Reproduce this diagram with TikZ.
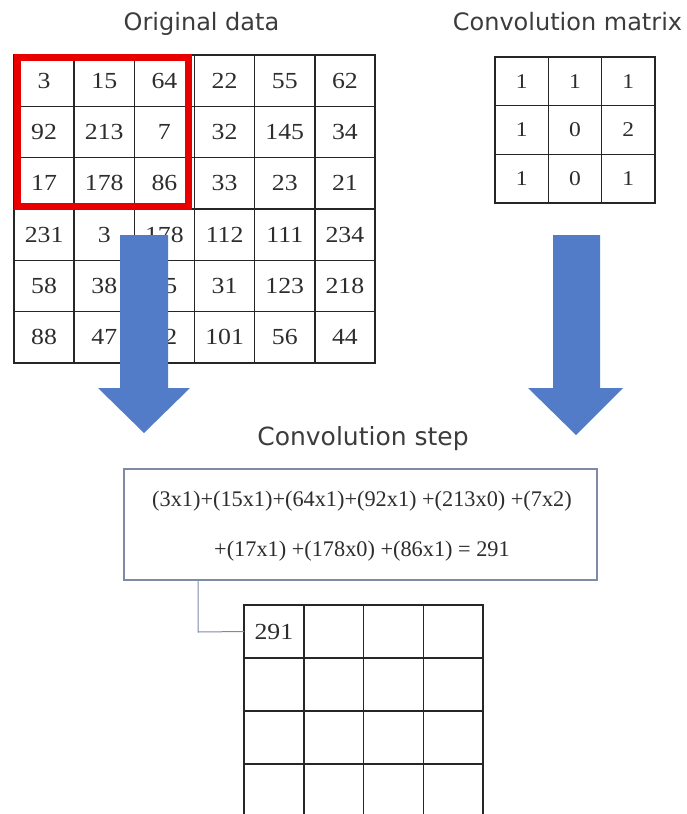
\documentclass[tikz,border=0pt]{standalone}
\usepackage{fontspec}
\setmainfont{Liberation Serif}
\newfontfamily\headfont{DejaVu Sans}
\newfontfamily\cellfont[FakeStretch=1.12]{Liberation Serif}

\definecolor{headgray}{RGB}{60,60,60}
\definecolor{numgray}{RGB}{45,45,45}
\definecolor{windowred}{RGB}{232,0,0}
\definecolor{arrowblue}{RGB}{82,124,200}
\definecolor{boxgray}{RGB}{128,138,168}

\begin{document}
\begin{tikzpicture}[x=1pt,y=-1pt,
  heading/.style={font=\headfont\fontsize{24}{28}\selectfont, text=headgray, inner sep=0pt, anchor=base},
  cell/.style={draw=black!85, line width=1.5pt, minimum width=60.17pt, minimum height=51.33pt,
    inner sep=0pt, outer sep=0pt, font=\cellfont\fontsize{23}{26}\selectfont, text=numgray},
  kcell/.style={cell, minimum width=53.33pt, minimum height=48.67pt,
    font=\cellfont\fontsize{21}{24}\selectfont},
  ocell/.style={cell, minimum width=59.75pt, minimum height=53pt},
  window/.style={draw=windowred, line width=7pt},
  bigarrow/.style={fill=arrowblue, draw=none},
  stepbox/.style={draw=boxgray, line width=1.2pt, minimum width=473pt, minimum height=111pt,
    inner sep=0pt, fill=white},
  formula/.style={font=\fontsize{22.3}{26}\selectfont, text=numgray, inner sep=0pt},
  link/.style={draw=boxgray, line width=1pt}
]
\useasboundingbox (0,0) rectangle (686,814);

% headings
\node[heading] (hdata)   at (201.5,30) {Original data};
\node[heading] (hkernel) at (567.5,30) {Convolution matrix};
\node[heading, font=\headfont\fontsize{25}{29}\selectfont] (hstep) at (363,445) {Convolution step};

% 6x6 input data
\foreach \row [count=\r] in {
  {3,15,64,22,55,62},
  {92,213,7,32,145,34},
  {17,178,86,33,23,21},
  {231,3,178,112,111,234},
  {58,38,65,31,123,218},
  {88,47,92,101,56,44}}{
  \foreach \v [count=\c] in \row {
    \node[cell] (d-\r-\c) at ({14+60.17*(\c-0.5)},{55+51.33*(\r-0.5)}) {\v};
  }
}

% 3x3 window on the data
\draw[window] (17.5,57) rectangle (188.5,206.5);

% 3x3 kernel
\foreach \row [count=\r] in {{1,1,1},{1,0,2},{1,0,1}}{
  \foreach \v [count=\c] in \row {
    \node[kcell] (k-\r-\c) at ({495+53.33*(\c-0.5)},{57+48.67*(\r-0.5)}) {\v};
  }
}

% block arrows
\path[bigarrow] (120,235) -- (168,235) -- (168,388) -- (190,388) -- (144,433)
  -- (98,388) -- (120,388) -- cycle;
\path[bigarrow] (553,235) -- (600,235) -- (600,388) -- (623,388) -- (576,435)
  -- (528,388) -- (553,388) -- cycle;

% convolution step
\node[stepbox] (step) at (360.5,524.5) {};
\node[formula] (eq1) at (362,501) {(3x1)+(15x1)+(64x1)+(92x1) +(213x0) +(7x2)};
\node[formula] (eq2) at (362,551) {+(17x1) +(178x0) +(86x1) = 291};

% output feature map
\begin{scope}
  \clip (0,0) rectangle (686,814);
  \foreach \r in {1,...,4}{
    \foreach \c in {1,...,4}{
      \node[ocell] (o-\r-\c) at ({244+59.75*(\c-0.5)},{605+53*(\r-0.5)}) {};
    }
  }
\end{scope}
\node[font=\cellfont\fontsize{23}{26}\selectfont, text=numgray, inner sep=0pt] (res) at (o-1-1) {291};

% connector from the step to its result
\coordinate (elbow) at (198,632);
\draw[link] (step.south -| elbow) -- (elbow) -- (o-1-1.west);
\end{tikzpicture}
\end{document}
